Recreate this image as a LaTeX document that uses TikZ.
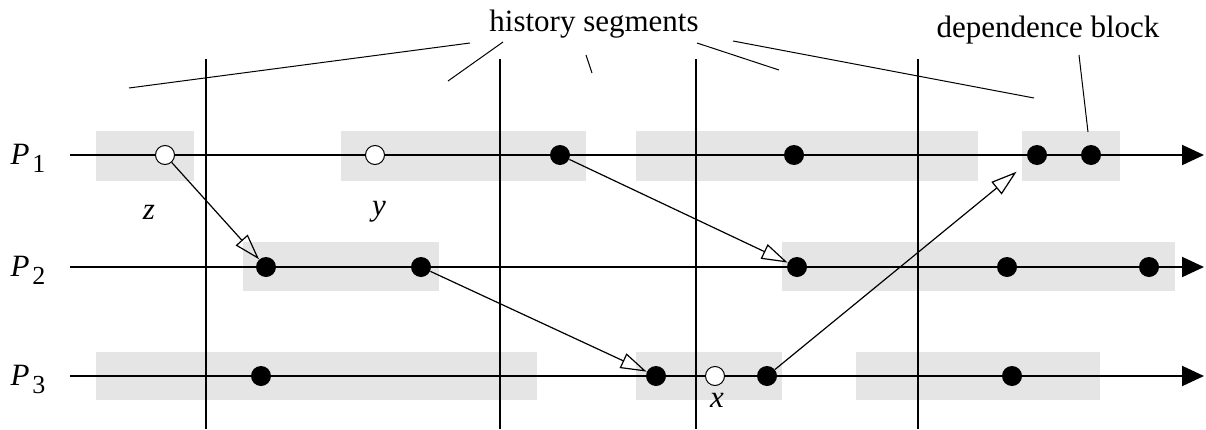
\documentclass[tikz,border=0pt]{standalone}
\usepackage{fontspec}
\setmainfont{Liberation Serif}
\usetikzlibrary{arrows.meta, positioning}

\begin{document}
\begin{tikzpicture}[x=0.5pt, y=-0.5pt, >=Stealth,
    seg/.style={fill=black!10, draw=none},
    evt/.style={circle, fill=black, inner sep=0pt, minimum size=10pt},
    ckpt/.style={circle, draw=black, fill=white, line width=0.5pt, inner sep=0pt, minimum size=9.5pt},
    timeline/.style={line width=1pt, -{Triangle[length=11pt, width=10pt]}},
    cut/.style={line width=1pt},
    msg/.style={line width=0.6pt, -{Triangle[open, length=13pt, width=8pt]}},
    callout/.style={line width=0.5pt},
    font=\fontsize{15.5}{18}\selectfont]
    \useasboundingbox (0,0) rectangle (1206,429);

    % history segments (grey blocks)
    \foreach \xa/\ya/\xb/\yb in {96/131/194/181, 341/131/586/181, 636/131/978/181, 1022/131/1120/181,
                                 243/242/439/291, 782/242/1175/291,
                                 96/352/537/400, 636/352/782/400, 856/352/1100/400}
        \fill[seg] (\xa,\ya) rectangle (\xb,\yb);

    % cuts
    \foreach \x in {206, 500, 696, 918}
        \draw[cut] (\x,59) -- (\x,429);

    % processes
    \foreach \i/\y in {1/155, 2/267, 3/376} {
        \coordinate (s\i) at (70,\y);
        \coordinate (e\i) at (1204,\y);
        \draw[timeline] (s\i) -- (e\i);
        \node (lbl\i) at (28,\y+3) {\textit{P}\kern1.5pt\raisebox{-4pt}{\fontsize{13}{15}\selectfont\i}};
    }

    % events
    \node[ckpt] (p1z) at (165,155) {};
    \node[ckpt] (p1y) at (375,155) {};
    \node[ckpt] (p3x) at (715,376) {};
    \foreach \n/\x in {p1a/560, p1b/794, p1c/1037, p1d/1091}
        \node[evt] (\n) at (\x,155) {};
    \foreach \n/\x in {p2a/266, p2b/421, p2c/797, p2d/1007, p2e/1149}
        \node[evt] (\n) at (\x,267) {};
    \foreach \n/\x in {p3a/261, p3b/656, p3c/767, p3d/1012}
        \node[evt] (\n) at (\x,376) {};

    \node (zl) at (149,212) {\textit{z}};
    \node (yl) at (379,212) {\textit{y}};
    \node (xl) at (717,400) {\textit{x}};

    % messages
    \draw[msg] (p1z) -- (p2a);
    \draw[msg] (p2b) -- (p3b);
    \draw[msg] (p1a) -- (p2c);
    \draw[msg, shorten >=8pt] (p3c) -- (p1c);

    % labels
    \node[anchor=base] (hist) at (594,31) {history segments};
    \node[anchor=base] (dep) at (1048,37) {dependence block};
    \foreach \xa/\ya/\xb/\yb in {129/88/470/43, 448/81/503/42, 586/55/592/73, 697/43/779/70, 733/41/1034/98}
        \draw[callout] (\xa,\ya) -- (\xb,\yb);
    \draw[callout] (1079,55) -- (1088,132);

\end{tikzpicture}
\end{document}
